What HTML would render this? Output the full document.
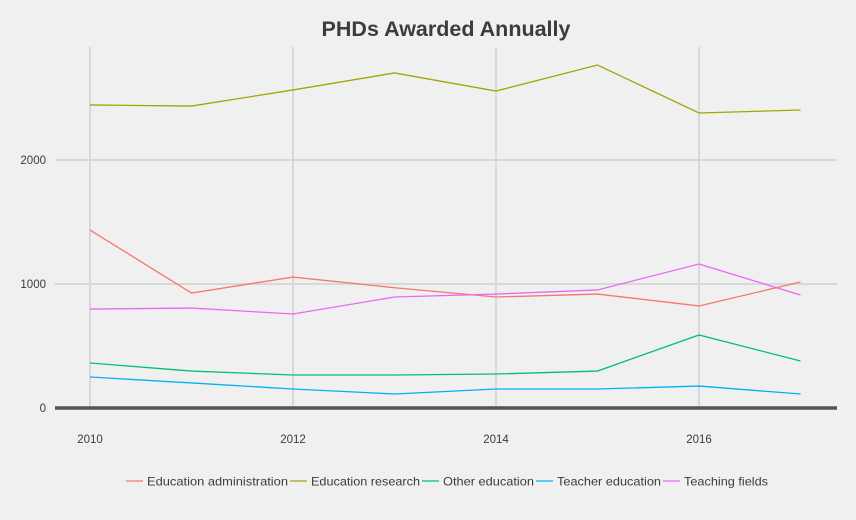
<!DOCTYPE html>
<html><head><meta charset="utf-8"><style>
body{margin:0;background:#f0f0f0;font-family:"Liberation Sans",sans-serif}
svg{display:block}
</style></head><body>
<svg id="chart" width="856" height="520">
<rect width="856" height="520" fill="#f0f0f0"/>
<text x="446" y="36" text-anchor="middle" font-size="21.5" font-weight="bold" fill="#3c3c3c">PHDs Awarded Annually</text>
<g id="grid"></g><g id="series"></g><g id="axes"></g><g id="legend"></g>
</svg>
<script>
const years=[2010,2011,2012,2013,2014,2015,2016,2017];
const seriesNames=["Education administration","Education research","Other education","Teacher education","Teaching fields"];
const colors=["#F8766D","#A3A500","#00BF7D","#00B0F6","#E76BF3"];
const eduAdmin=[1435,927,1056,970,895,919,823,1016];
const eduResearch=[2444,2435,2565,2702,2556,2766,2379,2403];
const otherEdu=[363,298,266,266,274,298,589,379];
const teacherEdu=[250,202,153,113,153,153,177,113];
const teachingFields=[798,806,758,895,919,952,1161,911];
const xTicks=[2010,2012,2014,2016];
const yTicks=[0,1000,2000];
const allSeries=[eduAdmin,eduResearch,otherEdu,teacherEdu,teachingFields];
const ns="http://www.w3.org/2000/svg";
const x=v=>90+(v-2010)*101.5;
const y=v=>408-v*0.124;
const grid=document.getElementById('grid'),ser=document.getElementById('series'),ax=document.getElementById('axes'),leg=document.getElementById('legend');
function mk(tag,attrs,parent){const e=document.createElementNS(ns,tag);for(const k in attrs)e.setAttribute(k,attrs[k]);parent.appendChild(e);return e;}
xTicks.forEach(t=>{
 const l=mk('line',{x1:x(t),x2:x(t),y1:47,y2:408,stroke:'#d8d8d8','stroke-width':2},grid);
 
 
 const tx=mk('text',{x:x(t),y:443,'text-anchor':'middle','font-size':11.5,fill:'#3c3c3c'},ax);tx.textContent=t;
 
 
});
yTicks.forEach(t=>{
 if(t>0){const l=mk('line',{x1:55,x2:837,y1:y(t),y2:y(t),stroke:'#d8d8d8','stroke-width':2},grid);
 
 }
 const tx=mk('text',{x:46,y:y(t)+4,'text-anchor':'end','font-size':11.5,fill:'#3c3c3c'},ax);tx.textContent=t;
 
 
});
allSeries.forEach((s,i)=>{
 const p=mk('polyline',{points:s.map((v,j)=>x(years[j])+','+y(v)).join(' '),fill:'none',stroke:colors[i],'stroke-width':1.3},ser);
 
 
});
const base=mk('line',{x1:55,x2:837,y1:y(0),y2:y(0),stroke:'#535353','stroke-width':3.5},ax);


const lx=[126,290,422,536,663];
const lw=[141,109,91,104,84];
seriesNames.forEach((n,i)=>{
 const g=mk('g',{},leg);
 
 
 mk('line',{x1:lx[i],x2:lx[i]+17,y1:481,y2:481,stroke:colors[i],'stroke-width':1.3},g);
 const t=mk('text',{x:lx[i]+21,y:485.5,'font-size':12,fill:'#3c3c3c',textLength:lw[i],lengthAdjust:'spacingAndGlyphs'},g);t.textContent=n;
});
</script>
</body></html>
